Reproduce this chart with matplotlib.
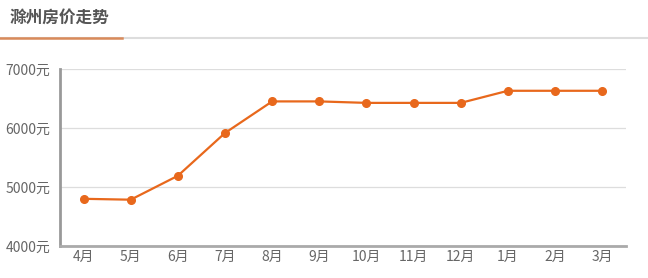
import matplotlib
matplotlib.use("Agg")
from matplotlib import pyplot as plt
import numpy as np

plt.rcParams['font.family'] = ['Noto Sans CJK SC', 'DejaVu Sans']

months = ['4月', '5月', '6月', '7月', '8月', '9月', '10月', '11月', '12月', '1月', '2月', '3月']
prices = [4800, 4785, 5190, 5915, 6450, 6450, 6425, 6425, 6425, 6630, 6630, 6630]
yticks = [4000, 5000, 6000, 7000]
ytick_labels = ['4000元', '5000元', '6000元', '7000元']
title = '滁州房价走势'

orange = '#e8681c'

fig = plt.figure(figsize=(6.48, 2.78), dpi=100)
ax = fig.add_axes([0.0926, 0.115, 0.873, 0.637])

x = np.arange(len(months))
ax.plot(x, prices, color=orange, linewidth=1.6, marker='o', markersize=5.5, zorder=3)

ax.set_xlim(-0.5, len(months) - 0.5)
ax.set_ylim(4000, 7000)
ax.set_xticks(x)
ax.set_xticklabels(months)
ax.set_yticks(yticks)
ax.set_yticklabels(ytick_labels)
ax.tick_params(axis='both', length=0, labelsize=10, labelcolor='#666666')
ax.tick_params(axis='x', pad=3)
ax.tick_params(axis='y', pad=7)

ax.grid(axis='y', color='#dddddd', linewidth=0.9)
ax.set_axisbelow(True)
for s in ['top', 'right']:
    ax.spines[s].set_visible(False)
ax.spines['left'].set_color('#999999')
ax.spines['left'].set_linewidth(2)
ax.spines['bottom'].set_color('#aaaaaa')
ax.spines['bottom'].set_linewidth(2)

# header
fig.text(10 / 648, 1 - 18 / 278, title, fontsize=12, fontweight='bold',
         color='#555555', va='center', ha='left')
fig.add_artist(plt.Line2D([0, 1], [1 - 37.5 / 278] * 2, color='#dddddd', linewidth=1.5))
fig.add_artist(plt.Line2D([0, 122 / 648], [1 - 37.5 / 278] * 2, color='#d98a5a', linewidth=1.8))

fig.savefig('out.png', dpi=100)
